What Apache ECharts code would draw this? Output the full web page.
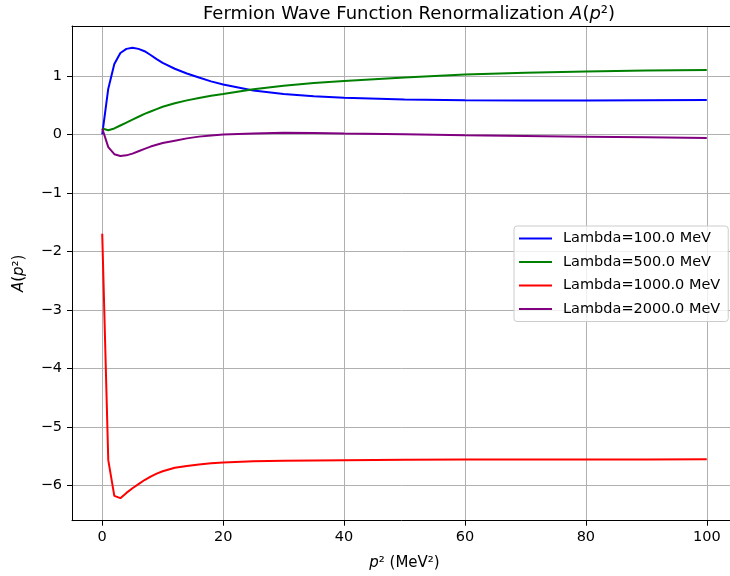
<!DOCTYPE html>
<html>
<head>
<meta charset="utf-8">
<script src="https://cdn.jsdelivr.net/npm/echarts@6/dist/echarts.min.js"></script>
<style>html,body{margin:0;padding:0;background:#fff}#c{width:730px;height:576px}</style>
</head>
<body>
<div id="c"></div>
<script>
const xs = [0,1,2,3,4,5,6,7,8,9,10,12,14,16,18,20,25,30,35,40,50,60,70,80,90,100];
const lambda100 = [0.0,0.78,1.2,1.39,1.46,1.48,1.46,1.42,1.355,1.285,1.22,1.12,1.04,0.97,0.905,0.85,0.75,0.69,0.65,0.625,0.595,0.58,0.578,0.579,0.581,0.584];
const lambda500 = [0.1,0.07,0.1,0.15,0.2,0.25,0.3,0.35,0.39,0.43,0.47,0.53,0.58,0.62,0.66,0.69,0.77,0.83,0.875,0.91,0.97,1.02,1.05,1.075,1.09,1.10];
const lambda1000 = [-1.7,-5.57,-6.18,-6.22,-6.13,-6.05,-5.98,-5.91,-5.85,-5.80,-5.76,-5.70,-5.67,-5.645,-5.625,-5.61,-5.59,-5.58,-5.575,-5.57,-5.565,-5.56,-5.56,-5.558,-5.557,-5.556];
const lambda2000 = [0.1,-0.22,-0.34,-0.37,-0.36,-0.33,-0.29,-0.25,-0.21,-0.18,-0.15,-0.11,-0.07,-0.04,-0.02,-0.005,0.015,0.025,0.024,0.015,0.0,-0.015,-0.028,-0.04,-0.052,-0.063];
const seriesNames = ['Lambda=100.0 MeV','Lambda=500.0 MeV','Lambda=1000.0 MeV','Lambda=2000.0 MeV'];
const seriesColors = ['#0000ff','#008000','#ff0000','#800080'];
const xTicks = [0,20,40,60,80,100];
const yTicks = [-6,-5,-4,-3,-2,-1,0,1];

const FONT = 'DejaVu Sans';
const allData = [lambda100, lambda500, lambda1000, lambda2000];
const chart = echarts.init(document.getElementById('c'), null, {renderer:'canvas'});
const fmt = v => String(v).replace('-', '\u2212');
chart.setOption({
  animation: false,
  textStyle: {fontFamily: FONT},
  title: {
    text: 'Fermion Wave Function Renormalization {i|A}({i|p}²)',
    left: 404, top: 0, textAlign: 'center',
    textStyle: {fontFamily: FONT, fontSize: 18, fontWeight: 'normal', color: '#000',
      rich: {i: {fontFamily: FONT, fontSize: 18, fontStyle: 'italic', color: '#000'}}}
  },
  legend: {
    orient: 'vertical', left: 514, top: 226,
    itemWidth: 33, itemHeight: 14, itemGap: 8.5,
    padding: [5, 8, 5, 4],
    borderColor: '#cccccc', borderWidth: 1, borderRadius: 3,
    backgroundColor: 'rgba(255,255,255,0.8)',
    itemStyle: {opacity: 0},
    textStyle: {fontFamily: FONT, fontSize: 14.5, color: '#000', padding: [0,0,0,6]},
    data: seriesNames
  },
  grid: {left: 72, top: 26, width: 665, height: 494.7, containLabel: false, outerBoundsMode: 'none'},
  xAxis: [{
    type: 'value', min: -5, max: 105,
    name: '{i|p}² (MeV²)', nameLocation: 'middle', nameGap: 35,
    nameTextStyle: {fontFamily: FONT, fontSize: 15, color: '#000',
      rich: {i: {fontFamily: FONT, fontSize: 15, fontStyle: 'italic', color: '#000'}}},
    axisLine: {show: true, onZero: false, lineStyle: {color: '#000', width: 1}},
    axisTick: {show: true, inside: false, length: 5, customValues: xTicks, lineStyle: {color: '#000'}},
    axisLabel: {customValues: xTicks, margin: 9, fontFamily: FONT, fontSize: 14.5, color: '#000', formatter: fmt},
    splitLine: {show: true, lineStyle: {color: '#b0b0b0', width: 1}}
  }, {
    type: 'value', position: 'top', min: -5, max: 105,
    axisLine: {show: true, onZero: false, lineStyle: {color: '#000', width: 1}},
    axisTick: {show: false}, axisLabel: {show: false}, splitLine: {show: false}
  }],
  yAxis: {
    type: 'value', min: -6.605, max: 1.851,
    name: '{i|A}({i|p}²)', nameLocation: 'middle', nameGap: 45, nameRotate: 90,
    nameTextStyle: {fontFamily: FONT, fontSize: 15, color: '#000',
      rich: {i: {fontFamily: FONT, fontSize: 15, fontStyle: 'italic', color: '#000'}}},
    axisLine: {show: true, onZero: false, lineStyle: {color: '#000', width: 1}},
    axisTick: {show: true, inside: false, length: 5, customValues: yTicks, lineStyle: {color: '#000'}},
    axisLabel: {customValues: yTicks, margin: 10, fontFamily: FONT, fontSize: 14.5, color: '#000', formatter: fmt},
    splitLine: {show: true, lineStyle: {color: '#b0b0b0', width: 1}}
  },
  series: seriesNames.map((n, k) => ({
    name: n, type: 'line', symbol: 'none', smooth: false,
    lineStyle: {color: seriesColors[k], width: 2},
    itemStyle: {color: seriesColors[k]},
    data: xs.map((x, i) => [x, allData[k][i]])
  }))
});
</script>
</body>
</html>
